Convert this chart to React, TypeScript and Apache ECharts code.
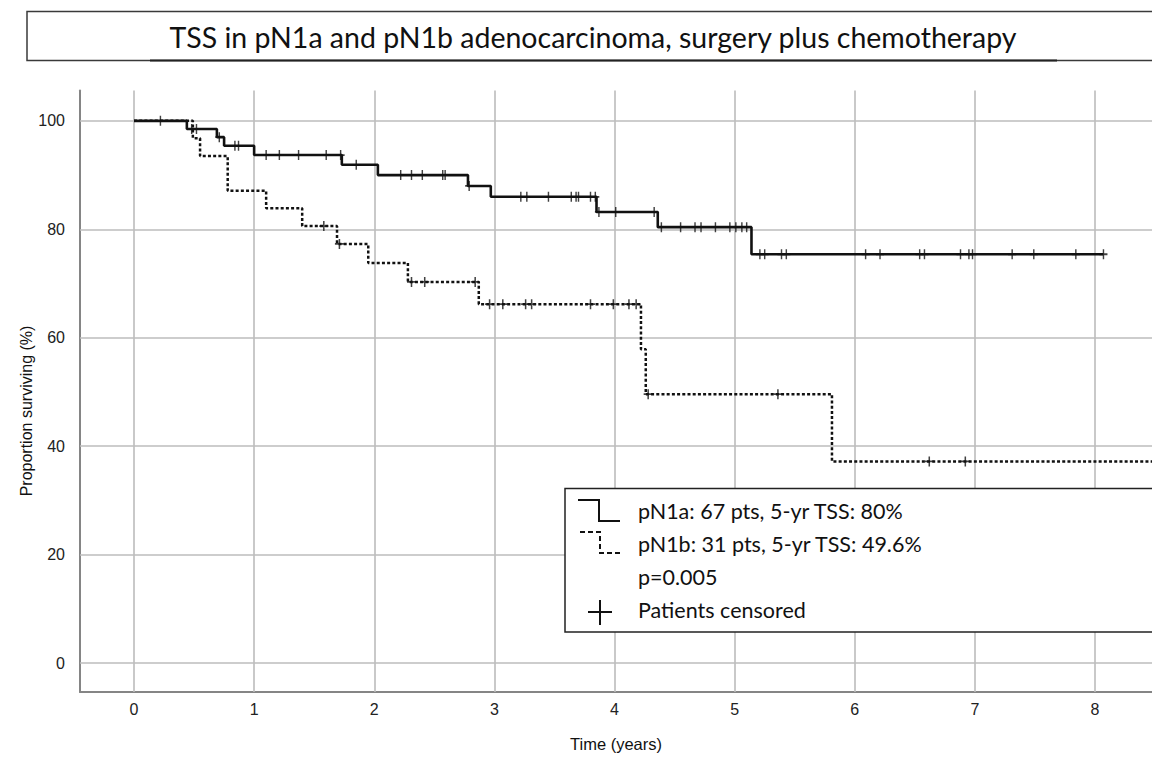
import React, { useEffect, useRef } from "react";
import * as echarts from "echarts";

const titleText = "TSS in pN1a and pN1b adenocarcinoma, surgery plus chemotherapy";
const xTicks = [0, 1, 2, 3, 4, 5, 6, 7, 8];
const yTicks = [0, 20, 40, 60, 80, 100];

// pN1a: step times (years) and survival (%) after each step
const pN1aTimes = [0, 0.44, 0.69, 0.75, 1.0, 1.73, 2.03, 2.78, 2.97, 3.85, 4.36, 5.14, 8.07];
const pN1aSurv = [100, 98.5, 97.0, 95.4, 93.7, 91.9, 90.0, 88.0, 86.0, 83.2, 80.4, 75.4, 75.4];
const pN1aCensored = [
  0.22, 0.48, 0.52, 0.71, 0.84, 0.87, 1.1, 1.21, 1.37, 1.6, 1.72, 1.85, 2.22, 2.31, 2.4, 2.57, 2.59,
  2.79, 3.22, 3.27, 3.45, 3.64, 3.68, 3.7, 3.8, 3.84, 3.87, 4.01, 4.33, 4.39, 4.55, 4.67, 4.72, 4.84,
  4.96, 5.01, 5.06, 5.1, 5.21, 5.25, 5.39, 5.43, 6.09, 6.21, 6.54, 6.58, 6.88, 6.95, 6.98, 7.31,
  7.49, 7.84, 8.07,
];

// pN1b
const pN1bTimes = [0, 0.49, 0.55, 0.78, 1.1, 1.4, 1.69, 1.95, 2.28, 2.87, 4.22, 4.26, 5.81, 8.6];
const pN1bSurv = [100, 96.8, 93.5, 87.1, 83.9, 80.6, 77.3, 73.8, 70.3, 66.2, 57.9, 49.6, 37.2, 37.2];
const pN1bCensored = [
  1.58, 1.71, 2.31, 2.42, 2.84, 2.96, 3.07, 3.26, 3.31, 3.8, 3.99, 4.12, 4.18, 4.28, 5.36, 6.62, 6.92,
];

const legendRows = [
  "pN1a: 67 pts, 5-yr TSS: 80%",
  "pN1b: 31 pts, 5-yr TSS: 49.6%",
  "p=0.005",
  "Patients censored",
];

function survAt(times: number[], surv: number[], t: number) {
  let v = surv[0];
  for (let i = 0; i < times.length; i++) {
    if (times[i] <= t) v = surv[i];
  }
  return v;
}

const plusSymbol = "path://M5 0 L5 10 M0 5 L10 5";

export default function App() {
  const ref = useRef<HTMLDivElement>(null);
  useEffect(() => {
    if (!ref.current) return;
    const chart = echarts.init(ref.current, undefined, { renderer: "svg" });
    const gridColor = "#bcbcbc";
    const axisColor = "#858585";
    const legendFont = "Lato";
    const axisFont = "Liberation Sans";
    chart.setOption({
      animation: false,
      backgroundColor: "#ffffff",
      grid: { left: 80, right: 0, top: 90.5, bottom: 62, containLabel: false },
      xAxis: {
        type: "value",
        min: -0.4495,
        max: 8.474,
        name: "Time (years)",
        nameLocation: "middle",
        nameGap: 43,
        nameTextStyle: { fontFamily: axisFont, fontSize: 16.5, color: "#111" },
        axisLine: { show: true, onZero: false, lineStyle: { color: axisColor, width: 2 } },
        axisTick: { show: false },
        splitLine: { show: false },
        axisLabel: {
          customValues: xTicks,
          margin: 9,
          fontFamily: axisFont,
          fontSize: 16,
          color: "#222",
        },
      },
      yAxis: {
        type: "value",
        min: -5.32,
        max: 105.6,
        axisLine: { show: true, onZero: false, lineStyle: { color: axisColor, width: 2 } },
        axisTick: { show: false },
        splitLine: { show: false },
        axisLabel: {
          customValues: yTicks,
          margin: 15,
          fontFamily: axisFont,
          fontSize: 16,
          color: "#222",
        },
      },
      series: [
        {
          type: "line",
          data: [],
          silent: true,
          z: 1,
          markLine: {
            z: 1,
            silent: true,
            symbol: ["none", "none"],
            label: { show: false },
            lineStyle: { color: gridColor, width: 1.6, type: "solid" },
            emphasis: { disabled: true },
            data: [
              ...xTicks.map((v) => ({ xAxis: v })),
              ...yTicks.map((v) => ({ yAxis: v })),
            ],
          },
        },
        {
          name: "pN1b",
          type: "line",
          step: "end",
          z: 3,
          showSymbol: false,
          lineStyle: { color: "#111", width: 2.5, type: [3, 2.2] },
          data: pN1bTimes.map((t, i) => [t, pN1bSurv[i]]),
        },
        {
          name: "pN1a",
          type: "line",
          step: "end",
          z: 4,
          showSymbol: false,
          lineStyle: { color: "#111", width: 2.6, type: "solid" },
          data: pN1aTimes.map((t, i) => [t, pN1aSurv[i]]),
        },
        {
          name: "pN1b censored",
          type: "scatter",
          z: 5,
          symbol: plusSymbol,
          symbolSize: [9, 10],
          itemStyle: { color: "transparent", borderColor: "#111", borderWidth: 1.6 },
          data: pN1bCensored.map((t) => [t, survAt(pN1bTimes, pN1bSurv, t)]),
        },
        {
          name: "pN1a censored",
          type: "scatter",
          z: 5,
          symbol: plusSymbol,
          symbolSize: [8, 10],
          itemStyle: { color: "transparent", borderColor: "#111", borderWidth: 1.6 },
          data: pN1aCensored.map((t) => [t, survAt(pN1aTimes, pN1aSurv, t)]),
        },
      ],
      graphic: [
        {
          type: "rect",
          z: 10,
          shape: { x: 27, y: 11.5, width: 1140, height: 49 },
          style: { fill: "#fff", stroke: "#3a3a3a", lineWidth: 1.5 },
        },
        {
          type: "line",
          z: 11,
          shape: { x1: 150, y1: 60.5, x2: 1057, y2: 60.5 },
          style: { stroke: "#222", lineWidth: 2 },
        },
        {
          type: "text",
          z: 12,
          x: 593,
          y: 37,
          style: {
            text: titleText,
            fontFamily: legendFont,
            fontSize: 28.5,
            fill: "#111",
            align: "center",
            verticalAlign: "middle",
          },
        },
        {
          type: "text",
          z: 12,
          x: 26,
          y: 411,
          rotation: Math.PI / 2,
          style: {
            text: "Proportion surviving (%)",
            fontFamily: axisFont,
            fontSize: 16,
            fill: "#111",
            align: "center",
            verticalAlign: "middle",
          },
        },
        {
          type: "rect",
          z: 10,
          shape: { x: 565, y: 488.5, width: 600, height: 143.5 },
          style: { fill: "#fff", stroke: "#222", lineWidth: 1.5 },
        },
        {
          type: "polyline",
          z: 11,
          shape: { points: [[578, 500], [599, 500], [599, 521], [620, 521]] },
          style: { stroke: "#111", lineWidth: 2, fill: "none" },
        },
        {
          type: "polyline",
          z: 11,
          shape: { points: [[580, 532], [600, 532], [600, 553], [620, 553]] },
          style: { stroke: "#111", lineWidth: 2, fill: "none", lineDash: [5, 3] },
        },
        {
          type: "line",
          z: 11,
          shape: { x1: 588, y1: 612, x2: 612, y2: 612 },
          style: { stroke: "#111", lineWidth: 2 },
        },
        {
          type: "line",
          z: 11,
          shape: { x1: 600, y1: 600, x2: 600, y2: 625 },
          style: { stroke: "#111", lineWidth: 2 },
        },
        ...legendRows.map((txt, i) => ({
          type: "text",
          z: 12,
          x: 638,
          y: [511, 544, 577, 610][i],
          style: {
            text: txt,
            fontFamily: legendFont,
            fontSize: 21.5,
            fill: "#111",
            align: "left",
            verticalAlign: "middle",
          },
        })),
      ],
    });
    return () => chart.dispose();
  }, []);
  return (
    <div
      ref={ref}
      style={{ position: "fixed", left: 0, top: 0, width: 1152, height: 757, background: "#fff" }}
    />
  );
}
